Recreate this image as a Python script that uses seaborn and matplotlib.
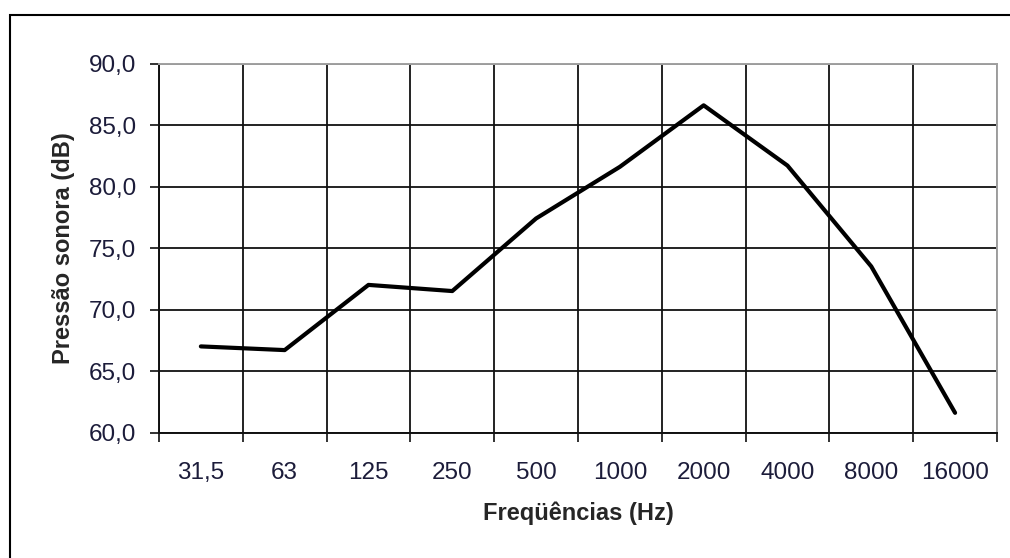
import numpy as np
import pandas as pd
import matplotlib
matplotlib.use("Agg")
import matplotlib.pyplot as plt
from matplotlib.patches import Rectangle
from matplotlib.ticker import FixedLocator
import seaborn as sns

frequencias = ["31,5", "63", "125", "250", "500", "1000", "2000", "4000", "8000", "16000"]
pressao = [67.0, 66.7, 72.0, 71.5, 77.4, 81.6, 86.6, 81.7, 73.5, 61.6]
y_ticks = [60, 65, 70, 75, 80, 85, 90]

df = pd.DataFrame({"freq": frequencias, "db": pressao})

sns.set_style("white")
plt.rcParams["font.family"] = ["Liberation Sans", "DejaVu Sans"]

fig = plt.figure(figsize=(10.1, 5.58), dpi=100)
ax = fig.add_axes([0.1574, 0.2249, 0.9871 - 0.1574, 0.8862 - 0.2249])

sns.lineplot(data=df, x="freq", y="db", ax=ax, color="black", linewidth=3.0, sort=False)

ax.set_xlim(-0.5, len(frequencias) - 0.5)
ax.set_ylim(60, 90)
ax.set_yticks(y_ticks)
ax.set_yticklabels([f"{v:.1f}".replace(".", ",") for v in y_ticks])

ax.set_xticks(range(len(frequencias)))
ax.set_xticklabels(frequencias)
ax.xaxis.set_minor_locator(FixedLocator(np.arange(-0.5, len(frequencias), 1.0)))

txt = "#1c1c3a"
ax.tick_params(axis="x", which="major", length=0, pad=21, labelsize=17.5, labelcolor=txt)
ax.tick_params(axis="x", which="minor", length=6.5, width=1.3, color="#222222", direction="out", bottom=True)
ax.tick_params(axis="y", which="major", length=6.5, width=1.3, color="#222222", pad=10,
               labelsize=17.5, labelcolor=txt, left=True)

ax.grid(False)
ax.yaxis.grid(True, which="major", color="#111111", linewidth=1.3)
ax.xaxis.grid(True, which="minor", color="#111111", linewidth=1.3)
ax.set_axisbelow(True)

for s in ["left", "bottom"]:
    ax.spines[s].set_color("#111111")
    ax.spines[s].set_linewidth(1.4)
for s in ["top", "right"]:
    ax.spines[s].set_color("#a0a0a0")
    ax.spines[s].set_linewidth(1.4)

ax.set_xlabel("Freqüências (Hz)", fontsize=17, fontweight="bold", labelpad=13)
ax.set_ylabel("Pressão sonora (dB)", fontsize=17, fontweight="bold", labelpad=10)

top = 1 - 15 / 558
fig.patches.append(Rectangle((10 / 1010, -0.2), 1.2, top + 0.2, transform=fig.transFigure,
                             fill=False, edgecolor="black", linewidth=1.5, clip_on=False))

fig.savefig("out.png", dpi=100, facecolor="white")
